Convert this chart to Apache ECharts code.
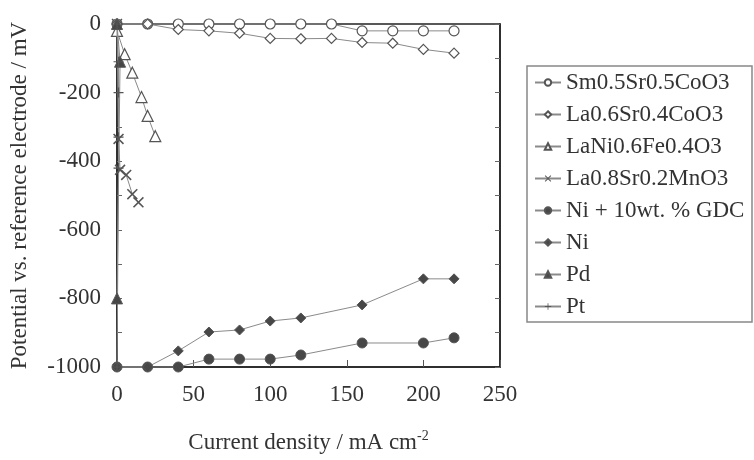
<!DOCTYPE html>
<html><head><meta charset="utf-8">
<script src="https://cdn.jsdelivr.net/npm/echarts@6/dist/echarts.min.js"></script>
<style>html,body{margin:0;padding:0;background:#fff}#c{width:754px;height:460px}</style>
</head><body><div id="c"></div>
<script>
const seriesNames = ['Sm0.5Sr0.5CoO3','La0.6Sr0.4CoO3','LaNi0.6Fe0.4O3','La0.8Sr0.2MnO3','Ni + 10wt. % GDC','Ni','Pd','Pt'];
const smData = [[0,0],[20,0],[40,0],[60,0],[80,0],[100,0],[120,0],[140,0],[160,-20],[180,-20],[200,-20],[220,-20]];
const laCoData = [[0,0],[20,0],[40,-16],[60,-20],[80,-27],[100,-42],[120,-43],[140,-42],[160,-54],[180,-56],[200,-74],[220,-85]];
const lnfData = [[0,-20],[5,-88],[10,-142],[16,-213],[20,-268],[25,-327]];
const lsmData = [[0,0],[1,-335],[2,-425],[6,-440],[10,-496],[14,-520]];
const niGdcData = [[0,-1000],[20,-1000],[40,-1000],[60,-977],[80,-977],[100,-977],[120,-965],[160,-930],[200,-930],[220,-915]];
const niData = [[0,-1000],[20,-1000],[40,-953],[60,-898],[80,-892],[100,-866],[120,-857],[160,-819],[200,-743],[220,-743]];
const pdData = [[0,-800],[2,-110],[0,0]];
const ptData = [[0,0],[1,-110],[1,-200],[1,-330],[1,-420],[0,-1000]];
const xTicks = {min:0, max:250, interval:50};
const yTicks = {min:-1000, max:0, interval:200};

const FONT = 'Liberation Serif';
const FS = 23;
const lineColor = '#8a8a8a';
const markEdge = '#555';
const markFill = '#474747';
const xPath = 'path://M0,1 L1,0 L5,4 L9,0 L10,1 L6,5 L10,9 L9,10 L5,6 L1,10 L0,9 L4,5 Z';
const plusPath = 'path://M4.4,0H5.6V4.4H10V5.6H5.6V10H4.4V5.6H0V4.4H4.4Z';

function mk(name, data, symbol, size, filled){
  return {
    name, type:'line', data, symbol, symbolSize:size, showSymbol:true,
    lineStyle:{color:lineColor, width:1},
    itemStyle: filled ? {color:markFill, borderColor:markEdge, borderWidth:1}
                      : {color:'#fff', borderColor:markEdge, borderWidth:1.2},
    emphasis:{disabled:true}, clip:false, animation:false, z: filled?3:2
  };
}
const series = [
  mk(seriesNames[0], smData, 'circle', 10, false),
  mk(seriesNames[1], laCoData, 'diamond', 10, false),
  mk(seriesNames[2], lnfData, 'triangle', 11, false),
  Object.assign(mk(seriesNames[3], lsmData, xPath, 11, true), {itemStyle:{color:'#555'}}),
  mk(seriesNames[4], niGdcData, 'circle', 10, true),
  mk(seriesNames[5], niData, 'diamond', 10, true),
  mk(seriesNames[6], pdData, 'triangle', 11, true),
  Object.assign(mk(seriesNames[7], ptData, plusPath, 10, true), {itemStyle:{color:'#555'}})
];

const chart = echarts.init(document.getElementById('c'), null, {renderer:'canvas'});
chart.setOption({
  animation:false,
  backgroundColor:'#fff',
  textStyle:{fontFamily:FONT},
  grid:{left:117, top:24, width:383, height:343, show:true, borderColor:'#222', borderWidth:1.5, backgroundColor:'transparent', containLabel:false, outerBoundsMode:'none'},
  legend:{
    orient:'vertical', left:527, top:66,
    data: seriesNames,
    itemWidth:26, itemHeight:8, itemGap:9,
    padding:[5,4,4,7],
    borderColor:'#888', borderWidth:1.5,
    textStyle:{fontFamily:FONT, fontSize:FS, color:'#333', lineHeight:23, width:182},
    selectedMode:false
  },
  xAxis:{
    type:'value', min:xTicks.min, max:xTicks.max, interval:xTicks.interval,
    name:'Current density / mA cm{sup|-2}', nameLocation:'middle', nameGap:62,
    nameTextStyle:{fontFamily:FONT, fontSize:FS, color:'#333', rich:{sup:{fontFamily:FONT, fontSize:14, color:'#333', verticalAlign:'top', padding:[0,0,14,0]}}},
    axisLine:{show:true, onZero:false, lineStyle:{color:'#222', width:1.5}},
    axisTick:{show:true, inside:true, length:7, lineStyle:{color:'#555'}},
    axisLabel:{fontFamily:FONT, fontSize:FS, color:'#333', margin:16},
    splitLine:{show:false}
  },
  yAxis:[{
    type:'value', min:yTicks.min, max:yTicks.max, interval:yTicks.interval,
    name:'Potential vs. reference electrode / mV', nameLocation:'middle', nameGap:86, nameRotate:90,
    nameTextStyle:{fontFamily:FONT, fontSize:FS, color:'#333'},
    axisLine:{show:true, onZero:false, lineStyle:{color:'#222', width:1.5}},
    axisTick:{show:true, inside:true, length:5, lineStyle:{color:'#666'}},
    minorTick:{show:true, splitNumber:2, length:5, lineStyle:{color:'#666'}},
    axisLabel:{fontFamily:FONT, fontSize:FS, color:'#333', margin:16, formatter:v=>String(v)},
    splitLine:{show:false}
  },{
    type:'value', position:'right', min:yTicks.min, max:yTicks.max, interval:yTicks.interval,
    axisLine:{show:true, onZero:false, lineStyle:{color:'#222', width:1.5}},
    axisTick:{show:true, inside:true, length:5, lineStyle:{color:'#666'}},
    minorTick:{show:true, splitNumber:2, length:5, lineStyle:{color:'#666'}},
    axisLabel:{show:false}, splitLine:{show:false}
  }],
  series
});
</script></body></html>
